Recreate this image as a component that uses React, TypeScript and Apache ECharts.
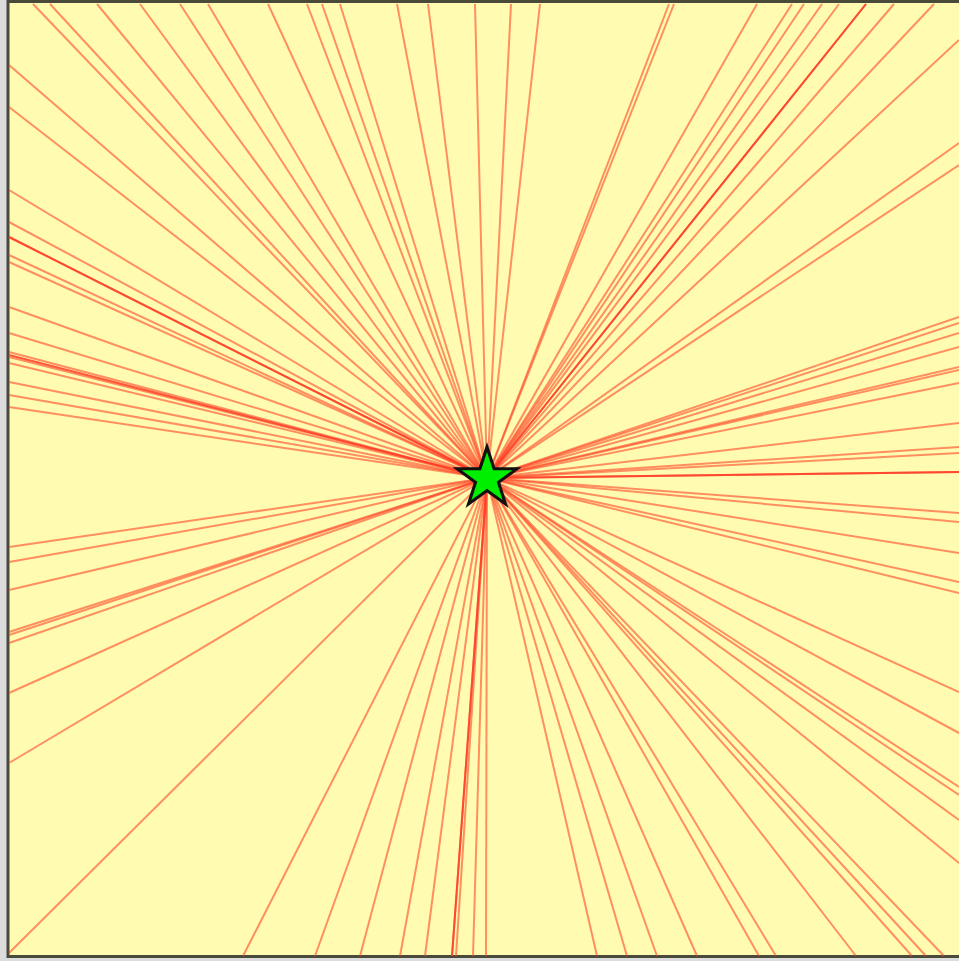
import React, { useEffect, useRef } from 'react';
import * as echarts from 'echarts';

// Ray origin (star centre) in picture units
const center: [number, number] = [487, 478];

// Edges of the plot frame in picture units
const X_LEFT = 9;
const X_RIGHT = 959;
const Y_TOP = 4;
const Y_BOTTOM = 956;

// Where each ray meets the frame
const topEnds = [33, 50, 97, 140, 180, 208, 268, 307, 322, 340, 397, 428, 475, 511, 540, 669, 674, 757, 792, 804, 822, 839, 866, 894, 934];
const rightEnds = [40, 143, 165, 317, 323, 333, 347, 367, 370, 383, 423, 447, 453, 472, 513, 522, 553, 582, 593, 692, 733, 787, 795, 820, 863];
const bottomEnds = [243, 315, 360, 400, 425, 452, 456, 473, 486, 597, 627, 657, 697, 759, 776, 856, 912, 926, 944];
const leftEnds = [65, 107, 190, 222, 237, 255, 262, 307, 333, 352, 357, 363, 382, 395, 407, 547, 562, 590, 632, 635, 643, 693, 763, 953];
// Rays drawn in a stronger red
const strongEnds: [number, number][] = [[9, 237], [9, 355], [452, 956], [959, 472], [866, 4]];

function starPath(): string {
  const pts: string[] = [];
  for (let i = 0; i < 10; i++) {
    const r = i % 2 === 0 ? 100 : 38.2;
    const a = (-90 + i * 36) * Math.PI / 180;
    pts.push(`${(r * Math.cos(a)).toFixed(2)} ${(r * Math.sin(a)).toFixed(2)}`);
  }
  return 'path://M' + pts.join(' L') + ' Z';
}

export default function App() {
  const ref = useRef<HTMLDivElement>(null);
  useEffect(() => {
    if (!ref.current) return;
    const chart = echarts.init(ref.current, null, { renderer: 'svg' });
    const ends: [number, number][] = [
      ...topEnds.map((x) => [x, Y_TOP] as [number, number]),
      ...rightEnds.map((y) => [X_RIGHT, y] as [number, number]),
      ...bottomEnds.map((x) => [x, Y_BOTTOM] as [number, number]),
      ...leftEnds.map((y) => [X_LEFT, y] as [number, number]),
    ];
    chart.setOption({
      animation: false,
      backgroundColor: '#dcdcdc',
      grid: {
        show: true,
        left: 8,
        top: 1.5,
        right: 6,
        bottom: 4.5,
        backgroundColor: '#fffcb2',
        borderColor: '#4a4a3a',
        borderWidth: 3,
      },
      xAxis: { type: 'value', min: 8, max: 969, show: false },
      yAxis: { type: 'value', min: 1.5, max: 956.5, inverse: true, show: false },
      series: [
        {
          type: 'lines',
          coordinateSystem: 'cartesian2d',
          z: 2,
          silent: true,
          lineStyle: { color: 'rgb(255,70,40)', opacity: 0.6, width: 2 },
          data: ends.map((e) => ({ coords: [center, e] })),
        },
        {
          type: 'lines',
          coordinateSystem: 'cartesian2d',
          z: 2,
          silent: true,
          lineStyle: { color: 'rgb(255,60,40)', opacity: 0.85, width: 2 },
          data: strongEnds.map((e) => ({ coords: [center, e] })),
        },
        {
          type: 'scatter',
          z: 5,
          symbol: starPath(),
          symbolSize: [60, 57],
          symbolOffset: [0, -2.5],
          itemStyle: { color: '#00ee00', borderColor: '#111', borderWidth: 3, opacity: 1 },
          data: [center],
        },
      ],
    });
    return () => chart.dispose();
  }, []);
  return (
    <div style={{ position: 'fixed', left: 0, top: 0, width: 959, height: 961, overflow: 'hidden' }}>
      <div ref={ref} style={{ width: 975, height: 961 }} />
    </div>
  );
}
